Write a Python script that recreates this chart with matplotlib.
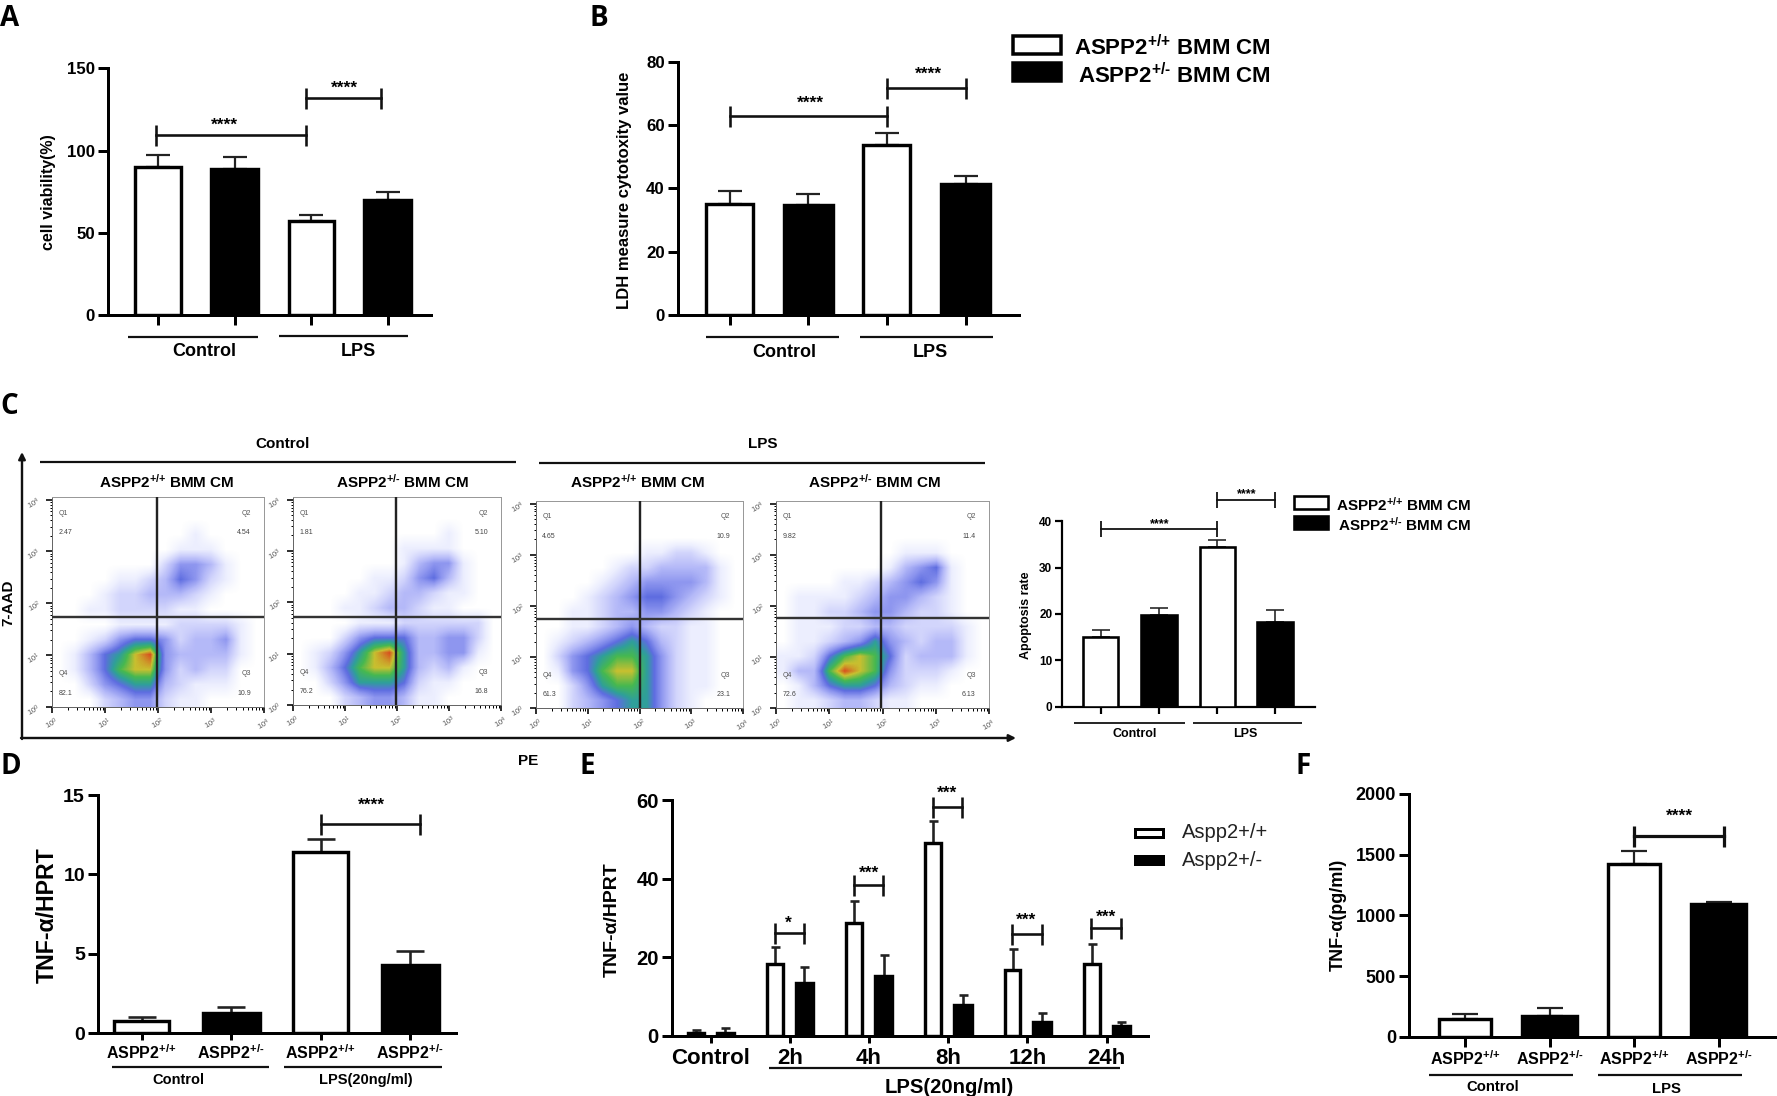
import numpy as np
import matplotlib
matplotlib.use("Agg")
import matplotlib.pyplot as plt
from matplotlib.colors import LinearSegmentedColormap

plt.rcParams['font.family'] = ['Liberation Sans', 'DejaVu Sans']
plt.rcParams['font.weight'] = 'bold'
plt.rcParams['mathtext.default'] = 'regular'

W = 1777
H = 1096
DPI = 100

# bar values
a_vals = [90, 88.5, 57, 70]
a_err = [7.5, 7.5, 4, 4.5]
b_vals = [35, 34.7, 53.8, 41.3]
b_err = [4.3, 3.6, 3.7, 2.7]
c_vals = [15.1, 19.7, 34.4, 18.3]
c_err = [1.5, 1.7, 1.6, 2.5]
d_vals = [0.8, 1.27, 11.4, 4.3]
d_err = [0.25, 0.41, 0.82, 0.88]
e_wt = [0.6, 18.3, 28.8, 49, 16.8, 18.2]
e_wt_err = [0.9, 4.3, 5.6, 5.7, 5.2, 5.1]
e_het = [0.7, 13.3, 15.3, 7.7, 3.6, 2.5]
e_het_err = [1.2, 4.1, 5.2, 2.7, 2.1, 1.1]
f_vals = [147, 174, 1426, 1096]
f_err = [37, 59, 107, 11]

e_labels = ['Control', '2h', '4h', '8h', '12h', '24h']
geno_labels = ['ASPP2$^{{+}/{+}}$', 'ASPP2$^{{+}/\u2010}$', 'ASPP2$^{{+}/{+}}$', 'ASPP2$^{{+}/\u2010}$']
bmm_wt = 'ASPP2$^{{+}/{+}}$ BMM CM'
bmm_het = 'ASPP2$^{{+}/\u2010}$ BMM CM'

# flow plots: density level per cell, read by eye (0 empty .. 9 peak), rows top to bottom
flow_ctrl_wt = [
    [0, 0, 0, 0, 0, 0, 0, 0, 0, 0, 0, 0, 0, 0],
    [0, 0, 0, 0, 0, 0, 0, 0, 0, 0, 0, 0, 0, 0],
    [0, 0, 0, 0, 0, 0, 0, 0, 0, 1, 0, 0, 0, 0],
    [0, 0, 0, 0, 0, 0, 0, 0, 1, 1, 1, 0, 0, 0],
    [0, 0, 0, 0, 0, 0, 0, 2, 4, 4, 3, 1, 0, 0],
    [0, 0, 0, 0, 1, 1, 2, 3, 5, 4, 2, 1, 0, 0],
    [0, 0, 0, 1, 2, 2, 3, 3, 3, 2, 1, 0, 0, 0],
    [0, 0, 1, 1, 2, 2, 2, 2, 1, 1, 0, 0, 0, 0],
    [0, 0, 0, 0, 1, 1, 1, 1, 2, 2, 2, 2, 1, 0],
    [0, 0, 1, 2, 4, 5, 5, 4, 2, 3, 3, 4, 1, 0],
    [0, 1, 3, 5, 6, 8, 9, 4, 3, 3, 3, 3, 1, 0],
    [0, 1, 3, 5, 7, 8, 8, 4, 2, 3, 2, 2, 0, 0],
    [0, 0, 2, 4, 5, 6, 6, 3, 2, 1, 1, 1, 0, 0],
    [0, 0, 0, 2, 3, 4, 4, 2, 1, 1, 0, 0, 0, 0],
]
flow_ctrl_het = [
    [0, 0, 0, 0, 0, 0, 0, 0, 0, 0, 0, 0, 0, 0],
    [0, 0, 0, 0, 0, 0, 0, 0, 0, 0, 0, 0, 0, 0],
    [0, 0, 0, 0, 0, 0, 0, 0, 0, 0, 1, 0, 0, 0],
    [0, 0, 0, 0, 0, 0, 0, 1, 1, 1, 1, 0, 0, 0],
    [0, 0, 0, 0, 0, 0, 0, 1, 3, 4, 4, 1, 0, 0],
    [0, 0, 0, 0, 0, 1, 1, 2, 4, 5, 3, 1, 0, 0],
    [0, 0, 0, 0, 1, 1, 2, 3, 3, 2, 1, 1, 0, 0],
    [0, 0, 0, 1, 1, 2, 3, 3, 2, 1, 1, 0, 0, 0],
    [0, 0, 0, 0, 1, 1, 1, 2, 2, 2, 2, 2, 2, 0],
    [0, 0, 0, 2, 4, 5, 5, 5, 3, 3, 4, 4, 2, 0],
    [0, 1, 2, 4, 6, 8, 9, 6, 3, 3, 4, 4, 1, 0],
    [0, 1, 3, 5, 7, 8, 8, 6, 3, 2, 3, 1, 0, 0],
    [0, 0, 2, 4, 6, 6, 6, 5, 2, 1, 1, 0, 0, 0],
    [0, 0, 0, 2, 3, 4, 4, 3, 1, 1, 0, 0, 0, 0],
]
flow_lps_wt = [
    [0, 0, 0, 0, 0, 0, 0, 0, 0, 0, 0, 0, 0, 0],
    [0, 0, 0, 0, 0, 0, 0, 0, 0, 0, 0, 0, 0, 0],
    [0, 0, 0, 0, 0, 0, 0, 0, 0, 0, 0, 0, 0, 0],
    [0, 0, 0, 0, 0, 0, 0, 1, 1, 2, 2, 1, 0, 0],
    [0, 0, 0, 0, 0, 1, 2, 2, 3, 3, 3, 3, 1, 0],
    [0, 0, 0, 0, 1, 2, 3, 4, 4, 4, 4, 3, 1, 0],
    [0, 0, 0, 1, 2, 3, 4, 5, 5, 4, 3, 2, 1, 0],
    [0, 0, 1, 1, 2, 3, 3, 4, 4, 3, 2, 1, 0, 0],
    [0, 0, 1, 1, 2, 3, 4, 3, 2, 2, 1, 1, 0, 0],
    [0, 1, 2, 3, 4, 5, 6, 5, 3, 2, 1, 1, 0, 0],
    [0, 2, 4, 5, 6, 7, 7, 6, 4, 2, 1, 1, 0, 0],
    [0, 1, 4, 5, 7, 8, 8, 6, 4, 2, 1, 1, 0, 0],
    [0, 0, 2, 4, 6, 7, 7, 6, 4, 2, 1, 1, 0, 0],
    [0, 0, 2, 3, 4, 5, 6, 6, 4, 2, 1, 0, 0, 0],
]
flow_lps_het = [
    [0, 0, 0, 0, 0, 0, 0, 0, 0, 0, 0, 0, 0, 0],
    [0, 0, 0, 0, 0, 0, 0, 0, 0, 0, 0, 0, 0, 0],
    [0, 0, 0, 0, 0, 0, 0, 0, 0, 0, 0, 0, 0, 0],
    [0, 0, 0, 0, 0, 0, 0, 0, 1, 1, 1, 0, 0, 0],
    [0, 0, 0, 0, 0, 0, 0, 1, 3, 4, 5, 1, 0, 0],
    [0, 0, 0, 0, 1, 1, 2, 3, 4, 5, 4, 1, 0, 0],
    [0, 1, 1, 1, 1, 2, 3, 4, 4, 3, 2, 1, 0, 0],
    [0, 1, 1, 2, 2, 3, 4, 4, 3, 2, 2, 1, 0, 0],
    [0, 1, 1, 1, 2, 2, 3, 3, 2, 2, 2, 2, 1, 0],
    [0, 1, 1, 2, 3, 4, 6, 4, 3, 2, 3, 3, 1, 0],
    [1, 1, 2, 5, 7, 8, 7, 5, 2, 3, 3, 3, 1, 0],
    [1, 3, 3, 7, 9, 8, 7, 4, 2, 2, 2, 1, 0, 0],
    [0, 1, 3, 5, 6, 6, 5, 3, 2, 1, 1, 0, 0, 0],
    [0, 1, 1, 2, 3, 3, 2, 1, 1, 0, 0, 0, 0, 0],
]
q_ctrl_wt = ['2.47', '4.54', '10.9', '82.1']
q_ctrl_het = ['1.81', '5.10', '16.8', '76.2']
q_lps_wt = ['4.65', '10.9', '23.1', '61.3']
q_lps_het = ['9.82', '11.4', '6.13', '72.6']

density_cmap = LinearSegmentedColormap.from_list('flow', [
    '#ffffff', '#eceefe', '#d2d5fc', '#b4b9f8', '#8e96ef', '#5e6de0',
    '#2f9f9a', '#46b850', '#c8c030', '#d8501f'])

fig = plt.figure(figsize=(W / DPI, H / DPI), dpi=DPI, facecolor='white')

# overlay in picture pixels, for labels and group lines
ov = fig.add_axes([0, 0, 1, 1], zorder=10)
ov.set_xlim(0, W)
ov.set_ylim(H, 0)
ov.axis('off')
ov.patch.set_visible(False)


def px(v):
    return v * 72.0 / DPI


def label(x, y, s, size, **kw):
    kw.setdefault('ha', 'center')
    kw.setdefault('va', 'center')
    ov.text(x, y, s, fontsize=size, **kw)


def stars(x, y, s='****', size=12.5):
    # asterisk sits high in the em box, so place it by the baseline
    ov.text(x, y + 0.47 * size / 0.72, s, fontsize=size, ha='center', va='baseline')


def hline(x0, x1, y, lw=2.2):
    ov.plot([x0, x1], [y, y], color='#111111', lw=px(lw), solid_capstyle='butt')


def bar_axes(left, right, top, bottom, first, step, ymax, yticks, tick_size):
    ax = fig.add_axes([left / W, 1 - bottom / H, (right - left) / W, (bottom - top) / H])
    ax.set_xlim((left - first) / step, (right - first) / step)
    ax.set_ylim(0, ymax)
    for s in ['top', 'right']:
        ax.spines[s].set_visible(False)
    for s in ['left', 'bottom']:
        ax.spines[s].set_linewidth(px(3))
    ax.set_yticks(yticks)
    ax.tick_params(axis='both', width=px(3), length=px(10), labelsize=tick_size, pad=px(3))
    ax.patch.set_visible(False)
    return ax


def bars(ax, xs, vals, errs, width, color, cap=12, lw=3.4, elw=2.2):
    ax.bar(xs, vals, width=width, facecolor=color, edgecolor='black', linewidth=px(lw), zorder=3)
    ax.errorbar(xs, vals, yerr=[np.zeros(len(errs)), errs], fmt='none', ecolor='#222222',
                elinewidth=px(elw), capsize=px(cap), capthick=px(elw), zorder=2)


def bracket(ax, x0, x1, y, cap_px=21, lw=2.6):
    ax.plot([x0, x1], [y, y], color='#111111', lw=px(lw), marker='|', ms=px(cap_px),
            mew=px(lw), clip_on=False, zorder=4)


def legend_boxes(x0, x1, y0, y1, y2, y3, lw=3.5):
    ov.fill([x0, x1, x1, x0], [y0, y0, y1, y1], facecolor='white', edgecolor='black', lw=px(lw))
    ov.fill([x0, x1, x1, x0], [y2, y2, y3, y3], facecolor='black', edgecolor='black', lw=px(lw))


# panel A
ax = bar_axes(108, 430.5, 68.3, 315, 158, 76.6, 150, [0, 50, 100, 150], 12.2)
bars(ax, [0, 2], a_vals[0::2], a_err[0::2], 0.59, 'white')
bars(ax, [1, 3], a_vals[1::2], a_err[1::2], 0.61, 'black')
ax.set_xticks(range(4), [''] * 4)
bracket(ax, -0.03, 1.93, 109.6)
bracket(ax, 1.93, 2.91, 131.7)
stars(224, 122)
stars(344, 85)
hline(128, 258, 336.7)
hline(278.6, 408, 336)
label(204.7, 352, 'Control', 13)
label(358.6, 352, 'LPS', 13)
label(48, 192, 'cell viability(%)', 11.5, rotation=90)

# panel B
ax = bar_axes(678, 1018.6, 61.7, 315, 729.7, 78.6, 80, [0, 20, 40, 60, 80], 12.2)
bars(ax, [0, 2], b_vals[0::2], b_err[0::2], 0.6, 'white')
bars(ax, [1, 3], b_vals[1::2], b_err[1::2], 0.62, 'black')
ax.set_xticks(range(4), [''] * 4)
bracket(ax, 0, 2, 62.7)
bracket(ax, 2, 3, 71.7)
stars(810, 100)
stars(928, 70.7)
hline(706, 838.7, 337)
hline(860, 992.7, 336.7)
label(784, 352.7, 'Control', 13)
label(930.6, 352.7, 'LPS', 13)
label(625, 190, 'LDH measure cytotoxity value', 12, rotation=90)
legend_boxes(1013, 1061, 36, 54, 63, 81)
label(1073.5, 48, bmm_wt, 16, ha='left')
label(1077.5, 76, bmm_het, 16, ha='left')

# panel C flow plots
flow_panels = [
    (flow_ctrl_wt, q_ctrl_wt, 52, 264, 497, 707, 1.99, 1.74),
    (flow_ctrl_het, q_ctrl_het, 293, 501, 497, 705, 1.99, 1.72),
    (flow_lps_wt, q_lps_wt, 536, 743, 501, 708, 2.01, 1.745),
    (flow_lps_het, q_lps_het, 776, 989, 501, 708, 1.98, 1.76),
]
minor = [d + np.log10(m) for d in range(4) for m in range(2, 10)]
for grid, qvals, left, right, top, bottom, vq, hq in flow_panels:
    ax = fig.add_axes([left / W, 1 - bottom / H, (right - left) / W, (bottom - top) / H])
    ax.imshow(grid, extent=(0, 4, 0, 4.05), aspect='auto', origin='upper', cmap=density_cmap,
              vmin=0, vmax=9, interpolation='bilinear', zorder=1)
    ax.set_xlim(0, 4)
    ax.set_ylim(0, 4.05)
    ax.axvline(vq, color='#222222', lw=px(2.4), zorder=3)
    ax.axhline(hq, color='#333333', lw=px(2.4), zorder=3)
    for s in ['top', 'right']:
        ax.spines[s].set_color('#999999')
        ax.spines[s].set_linewidth(px(1))
    for s in ['left', 'bottom']:
        ax.spines[s].set_color('#666666')
        ax.spines[s].set_linewidth(px(1))
    decades = ['$10^{%d}$' % i for i in range(5)]
    ax.set_xticks(range(5), decades, rotation=30, fontweight='normal')
    ax.set_yticks(range(5), decades, rotation=30, fontweight='normal')
    ax.set_xticks(minor, minor=True)
    ax.set_yticks(minor, minor=True)
    ax.tick_params(which='major', width=px(1.6), length=px(6), labelsize=5.5, pad=px(3), labelcolor='#555555')
    ax.tick_params(which='minor', width=px(1), length=px(2.5))
    # quadrant names and percentages
    for xq, ha, yq, name, val in [(0.12, 'left', 3.55, 'Q1', qvals[0]), (3.75, 'right', 3.55, 'Q2', qvals[1]),
                                  (3.75, 'right', 0.45, 'Q3', qvals[2]), (0.12, 'left', 0.45, 'Q4', qvals[3])]:
        ax.text(xq, yq + 0.12, name, fontsize=5, color='#555555', ha=ha, va='bottom', fontweight='normal')
        ax.text(xq, yq - 0.12, val, fontsize=5, color='#444444', ha=ha, va='top', fontweight='normal')

label(283, 444, 'Control', 11)
label(763, 444, 'LPS', 11)
hline(40, 516, 462)
hline(539, 985, 463)
label(167, 482, bmm_wt, 11)
label(402, 482, bmm_het, 11)
label(638, 482, bmm_wt, 11)
label(874, 482, bmm_het, 11)
label(8, 603, '7-AAD', 11, rotation=90)
label(528, 761, 'PE', 11)
ov.annotate('', xy=(22, 452), xytext=(22, 739),
            arrowprops=dict(arrowstyle='-|>', color='#111111', lw=px(2.4), shrinkA=0, shrinkB=0, mutation_scale=10))
ov.annotate('', xy=(1016, 738), xytext=(21, 738),
            arrowprops=dict(arrowstyle='-|>', color='#111111', lw=px(2.4), shrinkA=0, shrinkB=0, mutation_scale=10))

# panel C bars
ax = bar_axes(1062.3, 1315, 521.3, 706.7, 1100.7, 58.2, 40, [0, 10, 20, 30, 40], 8.5)
bars(ax, [0, 2], c_vals[0::2], c_err[0::2], 0.6, 'white', cap=9, lw=2.6, elw=1.6)
bars(ax, [1, 3], c_vals[1::2], c_err[1::2], 0.62, 'black', cap=9, lw=2.6, elw=1.6)
ax.set_xticks(range(4), [''] * 4)
ax.tick_params(axis='both', width=px(2.2), length=px(7))
for s in ['left', 'bottom']:
    ax.spines[s].set_linewidth(px(2.2))
bracket(ax, 0, 2, 38.3, cap_px=16, lw=1.8)
bracket(ax, 2, 3, 44.7, cap_px=16, lw=1.8)
stars(1160, 521.7, size=9)
stars(1247, 491.7, size=9)
hline(1074, 1185, 723.3, lw=1.8)
hline(1193.3, 1301.7, 723.3, lw=1.8)
label(1135, 734, 'Control', 9)
label(1245, 734, 'LPS', 9)
label(1026, 615, 'Apoptosis rate', 9, rotation=90)
legend_boxes(1294, 1328, 496, 509, 516, 529, lw=2.6)
label(1336, 505, bmm_wt, 11, ha='left')
label(1338, 525, bmm_het, 11, ha='left')

# panel D
ax = bar_axes(98, 455.8, 795, 1033.3, 141.7, 89.5, 15, [0, 5, 10, 15], 14)
bars(ax, [0, 2], d_vals[0::2], d_err[0::2], 0.62, 'white', cap=14, elw=2.6)
bars(ax, [1, 3], d_vals[1::2], d_err[1::2], 0.64, 'black', cap=14, elw=2.6)
ax.set_xticks(range(4), geno_labels)
ax.tick_params(axis='x', labelsize=11.5, length=px(7))
bracket(ax, 2, 3.11, 13.2)
stars(371.8, 802)
hline(111.7, 269, 1066.7)
hline(284, 442, 1066.7)
label(178.7, 1080, 'Control', 10.5)
label(366, 1080, 'LPS(20ng/ml)', 10.5)
label(47, 915, 'TNF-α/HPRT', 16.7, rotation=90)

# panel E
ax = bar_axes(672, 1147.6, 800, 1035.7, 710.5, 79.2, 60, [0, 20, 40, 60], 14.6)
xs = np.arange(6)
bars(ax, xs - 0.186, e_wt, e_wt_err, 0.2, 'white', cap=4.5, elw=2.6)
bars(ax, xs + 0.186, e_het, e_het_err, 0.22, 'black', cap=4.5, elw=2.6)
ax.set_xticks(xs, e_labels)
ax.tick_params(axis='x', labelsize=16, length=px(7), pad=px(5))
bracket(ax, 0.81, 1.18, 26.2)
bracket(ax, 1.81, 2.18, 38.4)
bracket(ax, 2.81, 3.18, 58.3)
bracket(ax, 3.81, 4.18, 26)
bracket(ax, 4.81, 5.18, 27.3)
stars(788.5, 920, s='*')
stars(869.4, 869.3, s='***')
stars(947, 789.3, s='***')
stars(1026, 916.7, s='***')
stars(1105.8, 913.3, s='***')
hline(768.8, 1120, 1068)
label(948.8, 1087.7, 'LPS(20ng/ml)', 14.6)
label(612, 919.5, 'TNF-α/HPRT', 14, rotation=90)
legend_boxes(1135, 1163, 829, 837, 856, 864, lw=3)
label(1182, 833, 'Aspp2+/+', 14.5, ha='left', fontweight='normal', color='#222222')
label(1182, 860, 'Aspp2+/-', 14.5, ha='left', fontweight='normal', color='#222222')

# panel F
ax = bar_axes(1409, 1777, 794, 1036.7, 1465, 84.5, 2000, [0, 500, 1000, 1500, 2000], 13)
bars(ax, [0, 2], f_vals[0::2], f_err[0::2], 0.61, 'white', cap=13)
bars(ax, [1, 3], f_vals[1::2], f_err[1::2], 0.64, 'black', cap=13)
ax.set_xticks(range(4), geno_labels)
ax.tick_params(axis='x', labelsize=11.5, length=px(10))
bracket(ax, 2, 3.06, 1654, lw=3.2)
stars(1679, 813)
hline(1429, 1572.7, 1075)
hline(1598, 1742, 1075)
label(1492.7, 1086.7, 'Control', 10.7)
label(1666.7, 1089, 'LPS', 10.7)
label(1338, 915, 'TNF-α(pg/ml)', 13, rotation=90)

# panel letters
for letter, lx, ly in [('A', 10, 18), ('B', 599, 18), ('C', 9, 407),
                       ('D', 11, 766), ('E', 587, 767), ('F', 1303, 766)]:
    ov.text(lx, ly, letter, fontsize=20, family='Open Sans', fontweight='bold', ha='center', va='center')

fig.savefig('out.png', dpi=DPI)
